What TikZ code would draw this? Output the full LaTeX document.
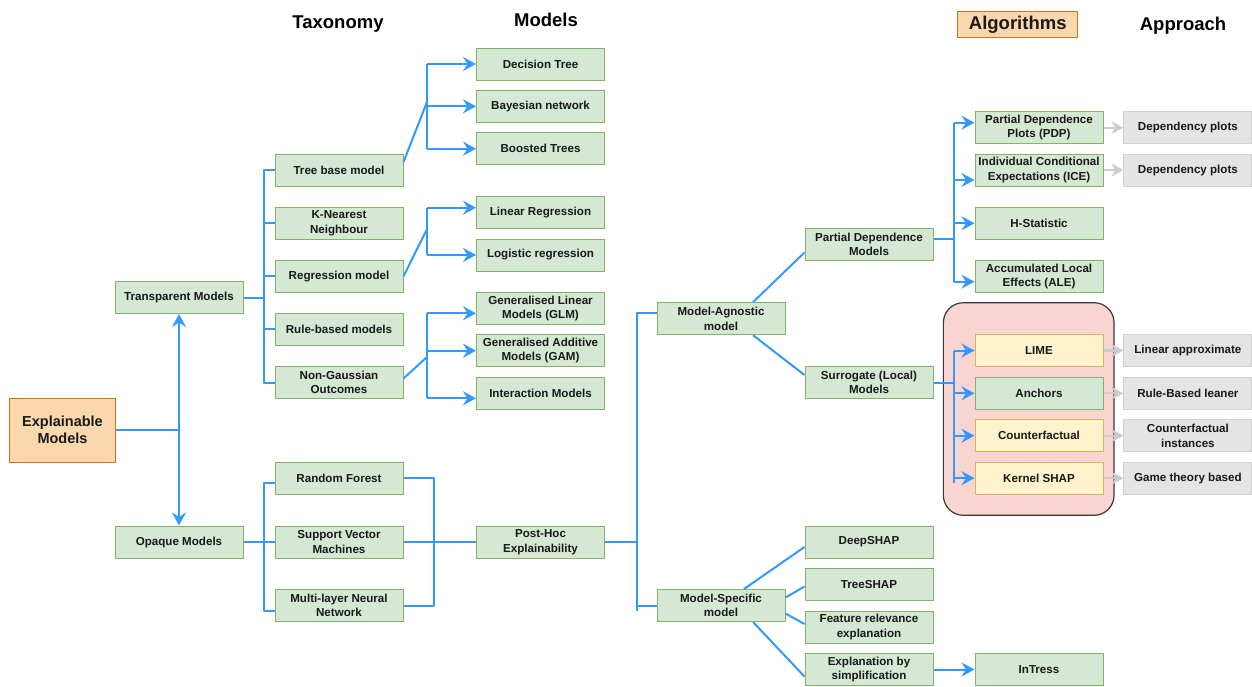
\documentclass[tikz,border=0pt]{standalone}
\usepackage{fontspec}
\setmainfont{Liberation Sans}
\usetikzlibrary{arrows.meta,calc}
\definecolor{blu}{HTML}{3399FF}
\definecolor{gfill}{HTML}{D5E8D4}
\definecolor{gbord}{HTML}{82B366}
\definecolor{ofill}{HTML}{FAD7AC}
\definecolor{obord}{HTML}{C4741A}
\definecolor{yfill}{HTML}{FFF2CC}
\definecolor{ybord}{HTML}{D6B656}
\definecolor{pfill}{HTML}{F8D5D1}
\definecolor{pbord}{HTML}{3A3A3A}
\definecolor{grfill}{HTML}{E4E4E4}
\definecolor{grbord}{HTML}{D2D2D2}
\definecolor{garrow}{HTML}{CCCCCC}
\tikzset{
  bx/.style={draw=gbord, fill=gfill, line width=1pt, minimum width=128pt, minimum height=32pt,
    inner sep=1pt, align=center, text=black!90, font=\bfseries\fontsize{11.6}{14.5}\selectfont},
  ybx/.style={bx, draw=ybord, fill=yfill},
  gybx/.style={bx, draw=grbord, fill=grfill},
  obx/.style={bx, draw=obord, fill=ofill},
  link/.style={draw=blu, line width=2pt, line join=round},
  arr/.style={link, -{Stealth[length=13pt,width=14pt,inset=4.5pt]}},
  garr/.style={draw=garrow, line width=2.2pt, -{Stealth[length=12pt,width=13pt,inset=4pt]}},
  hdr/.style={anchor=base, text=black, font=\bfseries\fontsize{18.5}{22}\selectfont}
}
\begin{document}
\begin{tikzpicture}[x=1pt,y=-1pt]
\useasboundingbox (0,0) rectangle (1252,686);
% headers
\node[hdr] (hTax) at (338,28.5) {Taxonomy};
\node[hdr] (hMod) at (546,26) {Models};
\node[obx, minimum width=119.7pt, minimum height=25.6pt, font=\bfseries\fontsize{18.5}{22}\selectfont] (hAlg) at (1017.7,24.5) {Algorithms};
\node[hdr] (hApp) at (1183,30.5) {Approach};
% group
\node[draw=pbord, fill=pfill, line width=1.2pt, rounded corners=20pt, minimum width=170.7pt, minimum height=212.6pt] (grp) at (1028.7,409) {};
% nodes
\node[obx, minimum width=106.4pt, minimum height=64pt, font=\bfseries\fontsize{14.5}{17.5}\selectfont] (expl) at (62.5,430) {Explainable\\Models};
\node[bx] (transp) at (179,297.5) {Transparent Models};
\node[bx] (opaque) at (179,542) {Opaque Models};
\node[bx] (tree) at (339,170) {Tree base model};
\node[bx] (knn) at (339,223.3) {K-Nearest\\Neighbour};
\node[bx] (reg) at (339,276.3) {Regression model};
\node[bx] (rule) at (339,329.2) {Rule-based models};
\node[bx] (nong) at (339,382.5) {Non-Gaussian\\Outcomes};
\node[bx] (rf) at (339,478.2) {Random Forest};
\node[bx] (svm) at (339,542) {Support Vector\\Machines};
\node[bx] (mlp) at (339,605.5) {Multi-layer Neural\\Network};
\node[bx] (dt) at (540.5,64) {Decision Tree};
\node[bx] (bn) at (540.5,106.3) {Bayesian network};
\node[bx] (bt) at (540.5,148.7) {Boosted Trees};
\node[bx] (lin) at (540.5,212.7) {Linear Regression};
\node[bx] (log) at (540.5,255) {Logistic regression};
\node[bx] (glm) at (540.5,308.3) {Generalised Linear\\Models (GLM)};
\node[bx] (gam) at (540.5,350.7) {Generalised Additive\\Models (GAM)};
\node[bx] (inter) at (540.5,393.3) {Interaction Models};
\node[bx] (post) at (540.5,542) {Post-Hoc\\Explainability};
\node[bx] (ma) at (721,318.7) {Model-Agnostic\\model};
\node[bx] (ms) at (721,605.5) {Model-Specific\\model};
\node[bx] (pdm) at (869,244.5) {Partial Dependence\\Models};
\node[bx] (sur) at (869,382.5) {Surrogate (Local)\\Models};
\node[bx] (deep) at (869,542) {DeepSHAP};
\node[bx] (tshap) at (869,584.5) {TreeSHAP};
\node[bx] (feat) at (869,627) {Feature relevance\\explanation};
\node[bx] (simp) at (869,669.5) {Explanation by\\simplification};
\node[bx] (pdp) at (1039,127.7) {Partial Dependence\\Plots (PDP)};
\node[bx] (ice) at (1039,170) {Individual Conditional\\Expectations (ICE)};
\node[bx] (hst) at (1039,223.3) {H-Statistic};
\node[bx] (ale) at (1039,276.3) {Accumulated Local\\Effects (ALE)};
\node[ybx] (lime) at (1039,350.5) {LIME};
\node[bx] (anch) at (1039,393.3) {Anchors};
\node[ybx] (cf) at (1039,435.7) {Counterfactual};
\node[ybx] (ks) at (1039,478.2) {Kernel SHAP};
\node[bx] (intr) at (1039,669.5) {InTress};
\node[gybx] (dep1) at (1187.9,127.7) {Dependency plots};
\node[gybx] (dep2) at (1187.9,170) {Dependency plots};
\node[gybx] (la) at (1187.9,350.5) {Linear approximate};
\node[gybx] (rb) at (1187.9,393.3) {Rule-Based leaner};
\node[gybx] (cfi) at (1187.9,435.7) {Counterfactual\\instances};
\node[gybx] (gt) at (1187.9,478.2) {Game theory based};
% Explainable -> Transparent / Opaque
\coordinate (ej) at (transp.south |- expl.east);
\draw[link] (expl.east) -- (ej);
\draw[arr] (ej) -- (transp.south);
\draw[arr] (ej) -- (opaque.north);
% transparent bus
\coordinate (tb) at (264,0);
\draw[link] (transp.east) -- (transp.east -| tb);
\draw[link] (tree.west) -- (tree.west -| tb) -- (nong.west -| tb) -- (nong.west);
\foreach \n in {knn,reg,rule} \draw[link] (\n.west -| tb) -- (\n.west);
% opaque bus
\coordinate (rfL) at ([yshift=-5pt]rf.west);
\coordinate (mlpL) at ([yshift=-5.5pt]mlp.west);
\draw[link] (opaque.east) -- (opaque.east -| tb);
\draw[link] (rfL) -- (rfL -| tb) -- (mlpL -| tb) -- (mlpL);
\draw[link] (svm.west -| tb) -- (svm.west);
% tree -> models
\coordinate (m1) at (427,102);
\draw[link] ([yshift=8pt]tree.east) -- (m1);
\draw[link] (dt.west -| m1) -- (bt.west -| m1);
\foreach \n in {dt,bn,bt} \draw[arr] (\n.west -| m1) -- (\n.west);
% regression -> models
\coordinate (m2) at (427,229);
\coordinate (linL) at ([yshift=5pt]lin.west);
\draw[link] (reg.east) -- (m2);
\draw[link] (linL -| m2) -- (log.west -| m2);
\draw[arr] (linL -| m2) -- (linL);
\draw[arr] (log.west -| m2) -- (log.west);
% non-gaussian -> models
\coordinate (m3) at (427,357);
\coordinate (glmL) at ([yshift=-5pt]glm.west);
\coordinate (intL) at ([yshift=-5pt]inter.west);
\draw[link] ([yshift=4pt]nong.east) -- (m3);
\draw[link] (glmL -| m3) -- (intL -| m3);
\draw[arr] (glmL -| m3) -- (glmL);
\draw[arr] (gam.west -| m3) -- (gam.west);
\draw[arr] (intL -| m3) -- (intL);
% opaque models -> post-hoc
\coordinate (ph) at (434,0);
\draw[link] (rf.east) -- (rf.east -| ph) -- (mlp.east -| ph) -- (mlp.east);
\draw[link] (svm.east) -- (post.west);
% post-hoc bus
\coordinate (pb) at (637,0);
\coordinate (maL) at ([yshift=5.4pt]ma.west);
\coordinate (pbEnd) at (637,611);
\draw[link] (post.east) -- (post.east -| pb);
\draw[link] (maL) -- (maL -| pb) -- (pbEnd);
\draw[link] (ms.west -| pb) -- (ms.west);
% model-agnostic / specific
\draw[link] ([xshift=32pt]ma.north) -- ([yshift=-8pt]pdm.west);
\draw[link] ([xshift=32pt]ma.south) -- ([yshift=7.5pt]sur.west);
\draw[link] ([xshift=23pt]ms.north) -- ([yshift=-5pt]deep.west);
\draw[link] ([yshift=8pt]ms.east) -- ([yshift=-2pt]tshap.west);
\draw[link] ([yshift=-8pt]ms.east) -- ([yshift=3pt]feat.west);
\draw[link] ([xshift=32pt]ms.south) -- ([yshift=-7pt]simp.west);
% PDM bus
\coordinate (ab) at (954,0);
\coordinate (pdmR) at ([yshift=6pt]pdm.east);
\coordinate (pdpL) at ([yshift=5pt]pdp.west);
\coordinate (iceL) at ([yshift=-10pt]ice.west);
\coordinate (aleL) at ([yshift=-5.4pt]ale.west);
\draw[link] (pdmR) -- (pdmR -| ab);
\draw[link] (pdpL -| ab) -- (aleL -| ab);
\draw[arr] (pdpL -| ab) -- (pdpL);
\draw[arr] (iceL -| ab) -- (iceL);
\draw[arr] (hst.west -| ab) -- (hst.west);
\draw[arr] (aleL -| ab) -- (aleL);
% surrogate bus
\coordinate (ksL) at ([yshift=-4.5pt]ks.west);
\draw[link] (sur.east) -- (sur.east -| ab);
\draw[link] (lime.west -| ab) -- (ksL -| ab);
\foreach \n in {lime,anch,cf,ks} \draw[arr] (\n.west -| ab) -- (\n.west);
% approach arrows
\draw[garr] (pdp.east) -- (dep1.west);
\draw[garr] (ice.east) -- (dep2.west);
\draw[garr] (lime.east) -- (la.west);
\draw[garr] (anch.east) -- (rb.west);
\draw[garr] (cf.east) -- (cfi.west);
\draw[garr] (ks.east) -- (gt.west);
% simplification -> InTress
\draw[arr] (simp.east) -- (intr.west);
\end{tikzpicture}
\end{document}
